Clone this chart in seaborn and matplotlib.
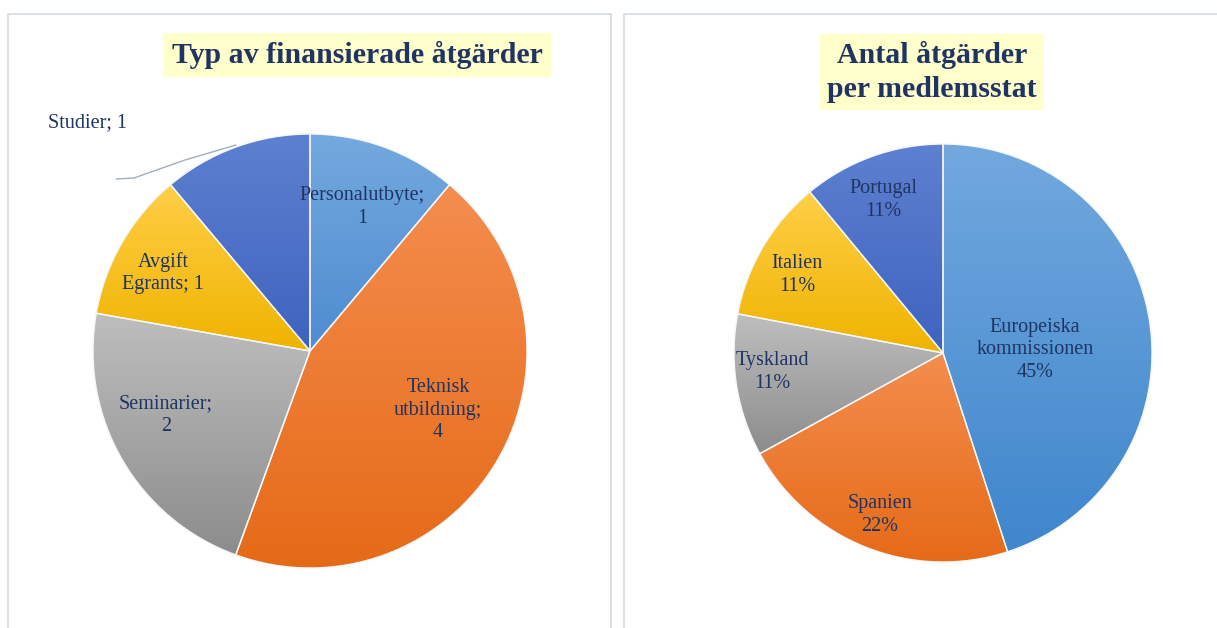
import numpy as np
import matplotlib
matplotlib.use("Agg")
import matplotlib.pyplot as plt
from matplotlib.patches import Rectangle
from matplotlib.colors import to_rgb
import seaborn as sns

# ---------------- data ----------------
left_title = "Typ av finansierade åtgärder"
left_categories = ["Personalutbyte", "Teknisk\nutbildning", "Seminarier", "Avgift\nEgrants", "Studier"]
left_values = [1, 4, 2, 1, 1]
left_sep = ["\n", "\n", "\n", " ", " "]

right_title = "Antal åtgärder\nper medlemsstat"
right_categories = ["Europeiska\nkommissionen", "Spanien", "Tyskland", "Italien", "Portugal"]
right_percent = [45, 22, 11, 11, 11]

# gradient colour pairs (top, bottom)
left_colors = [("#74A9DE", "#4D8CD0"), ("#F48D4E", "#E56A17"), ("#BEBEBE", "#8C8C8C"),
               ("#FFCF47", "#EFB300"), ("#5E80D0", "#3E63BF")]
right_colors = [("#72A8DE", "#3F86CC"), ("#F48D4E", "#E56A17"), ("#BEBEBE", "#8C8C8C"),
                ("#FFCF47", "#EFB300"), ("#5E80D0", "#3E63BF")]

sns.set_theme(style="white")
plt.rcParams["font.family"] = ["Liberation Serif", "DejaVu Serif"]

W, H = 1217, 628
fig = plt.figure(figsize=(W / 100, H / 100), dpi=100)
ax = fig.add_axes([0, 0, 1, 1])
ax.set_xlim(0, W)
ax.set_ylim(0, H)
ax.axis("off")

def Y(y):
    return H - y

navy = "#1F3462"

# panel borders
for x0, x1 in [(8, 611), (624, 1230)]:
    ax.add_patch(Rectangle((x0, Y(640)), x1 - x0, 640 - 14, fill=False,
                           edgecolor="#D9DEE5", linewidth=1.3, zorder=0))


def gradient_pie(values, colors, center, radius):
    wedges, _ = ax.pie(values, startangle=90, counterclock=False, center=center,
                       radius=radius, frame=True,
                       wedgeprops=dict(edgecolor="#F4F6FA", linewidth=1.0, zorder=3))
    for w, (c_top, c_bot) in zip(wedges, colors):
        verts = w.get_patch_transform().transform(w.get_path().vertices)
        x0, y0 = verts.min(axis=0)
        x1, y1 = verts.max(axis=0)
        t = np.linspace(0, 1, 256)[:, None, None]
        top = np.array(to_rgb(c_top))[None, None, :]
        bot = np.array(to_rgb(c_bot))[None, None, :]
        grad = bot * (1 - t) + top * t
        im = ax.imshow(grad, extent=[x0, x1, y0, y1], origin="lower",
                       aspect="auto", zorder=2, interpolation="bilinear")
        im.set_clip_path(w)
        w.set_facecolor("none")
    return wedges


# ---------- left pie ----------
lc = (310, Y(351))
gradient_pie(left_values, left_colors, lc, 217)

left_label_pos = [(362, 207), (438, 410), (166, 415), (163, 273), (87, 123)]
for cat, val, sep, (px, py) in zip(left_categories, left_values, left_sep, left_label_pos):
    ax.text(px, Y(py), f"{cat};{sep}{val}", ha="center", va="center",
            fontsize=14.5, color=navy, zorder=5, linespacing=1.22)

# leader line for Studier
ax.plot([116, 134, 185, 236], [Y(179), Y(178), Y(160), Y(145)],
        color="#A3AEBD", linewidth=1.0, zorder=4)

ax.text(357, Y(55), left_title, ha="center", va="center", fontsize=21.5,
        fontweight="bold", color=navy, zorder=5,
        bbox=dict(boxstyle="square,pad=0.28", facecolor="#FFFFCC", edgecolor="none"))

# ---------- right pie ----------
rc = (943, Y(353))
gradient_pie(right_percent, right_colors, rc, 209)

right_label_pos = [(1035, 350), (880, 515), (772, 372), (797, 275), (883, 200)]
for cat, p, (px, py) in zip(right_categories, right_percent, right_label_pos):
    ax.text(px, Y(py), f"{cat}\n{p}%", ha="center", va="center",
            fontsize=14.5, color=navy, zorder=5, linespacing=1.22)

ax.text(932, Y(72), right_title, ha="center", va="center", fontsize=21.5,
        fontweight="bold", color=navy, zorder=5, linespacing=1.3,
        bbox=dict(boxstyle="square,pad=0.25", facecolor="#FFFFCC", edgecolor="none"))

ax.set_xlim(0, W)
ax.set_ylim(0, H)
ax.set_aspect("auto")
ax.axis("off")

fig.savefig("out.png", dpi=100)
